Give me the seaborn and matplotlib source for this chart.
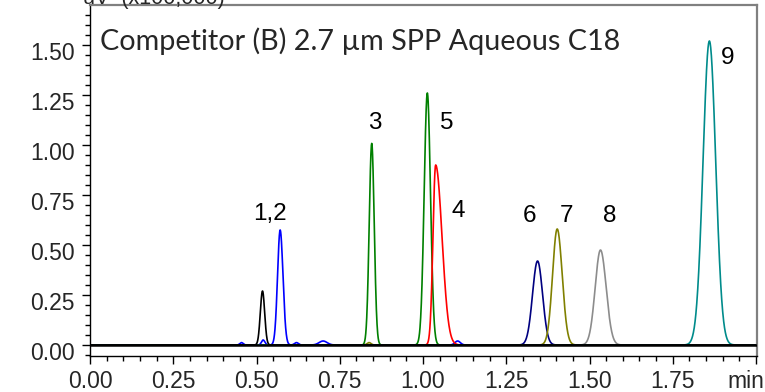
import numpy as np
import pandas as pd
import matplotlib
matplotlib.use("Agg")
import matplotlib.pyplot as plt
import matplotlib.transforms as mtransforms
import seaborn as sns

# ---- data ----
peak_time    = [0.518, 0.571, 0.455, 0.520, 0.620, 0.700, 1.104, 0.846, 1.013, 1.038, 1.344, 1.403, 0.838, 1.533, 1.860]
peak_height  = [0.27, 0.575, 0.012, 0.025, 0.012, 0.020, 0.020, 1.008, 1.26, 0.90, 0.42, 0.58, 0.012, 0.475, 1.52]
peak_sigma_l = [0.0065, 0.0078, 0.005, 0.005, 0.006, 0.012, 0.008, 0.0075, 0.0095, 0.008, 0.0150, 0.0140, 0.006, 0.0160, 0.019]
peak_sigma_r = [0.0065, 0.0085, 0.005, 0.005, 0.006, 0.012, 0.008, 0.0075, 0.0095, 0.019, 0.0150, 0.0150, 0.006, 0.0170, 0.019]
peak_channel = ["black", "blue", "blue", "blue", "blue", "blue", "blue", "green", "green",
                "red", "navy", "olive", "olive", "gray", "teal"]

channel_order  = ["blue", "green", "red", "navy", "olive", "gray", "teal", "black"]
channel_colors = {"black": "#000000", "blue": "#0000FF", "green": "#008000", "red": "#FF0000",
                  "navy": "#000080", "olive": "#808000", "gray": "#8C8C8C", "teal": "#008B8B"}

peak_labels   = ["1,2", "3", "5", "4", "6", "7", "8", "9"]
label_time    = [0.5405, 0.856, 1.072, 1.105, 1.321, 1.431, 1.5616, 1.914]
label_signal  = [0.655, 1.11, 1.11, 0.67, 0.645, 0.645, 0.645, 1.4325]

x_ticks       = [0.0, 0.25, 0.5, 0.75, 1.0, 1.25, 1.5, 1.75, 2.0]
x_tick_labels = ["0.00", "0.25", "0.50", "0.75", "1.00", "1.25", "1.50", "1.75", ""]
x_unit_label  = "min"
y_ticks       = [0.0, 0.25, 0.5, 0.75, 1.0, 1.25, 1.5]
y_tick_labels = ["0.00", "0.25", "0.50", "0.75", "1.00", "1.25", "1.50"]

title_text  = "Competitor (B) 2.7 \u00b5m SPP Aqueous C18"
ylabel_text = "uV  (x100,000)"

# ---- build traces (asymmetric gaussian peak shapes) ----
t = np.linspace(0.0, 2.003, 4007)
rows = []
for ch in channel_order:
    sig = np.zeros_like(t)
    for pt, ph, sl, sr, pc in zip(peak_time, peak_height, peak_sigma_l, peak_sigma_r, peak_channel):
        if pc != ch:
            continue
        s = np.where(t < pt, sl, sr)
        sig += ph * np.exp(-0.5 * ((t - pt) / s) ** 2)
    rows.append(pd.DataFrame({"time": t, "signal": sig, "channel": ch}))
df = pd.concat(rows, ignore_index=True)

# ---- plot ----
sns.set_style("ticks")
plt.rcParams["font.family"] = ["Liberation Sans", "DejaVu Sans"]

W, H = 765, 392
fig = plt.figure(figsize=(W / 100, H / 100), dpi=100)
ax = fig.add_axes([90 / W, (H - 356) / H, (757 - 90) / W, (356 - 5) / H])

sns.lineplot(data=df, x="time", y="signal", hue="channel", hue_order=channel_order,
             palette=channel_colors, legend=False, linewidth=1.2, ax=ax, sort=False,
             estimator=None)
ax.axhline(0, color="black", lw=1.8, zorder=5)

ax.set_xlim(0.0, 2.003)
ax.set_ylim(-0.055, 1.70)
ax.set_xlabel("")
ax.set_ylabel("")

ax.set_xticks(x_ticks)
ax.set_xticklabels(x_tick_labels)
ax.set_yticks(y_ticks)
ax.set_yticklabels(y_tick_labels)
ax.set_xticks(np.arange(0, 2.001, 0.05), minor=True)
ax.set_yticks(np.arange(-0.05, 1.70, 0.05), minor=True)
ax.tick_params(axis="both", which="major", length=6, width=1, color="black",
               labelsize=16.5, direction="out")
ax.tick_params(axis="both", which="minor", length=3.6, width=1, color="black", direction="out")
ax.tick_params(axis="x", which="major", pad=4)
ax.tick_params(axis="y", which="major", pad=5)

# y tick labels sit slightly below their ticks in the reference
offset = mtransforms.ScaledTranslation(0, -6 / 100, fig.dpi_scale_trans)
for lbl in ax.get_yticklabels():
    lbl.set_transform(lbl.get_transform() + offset)

for side in ["left", "bottom"]:
    ax.spines[side].set_color("black")
    ax.spines[side].set_linewidth(1.0)
for side in ["top", "right"]:
    ax.spines[side].set_visible(True)
    ax.spines[side].set_color("#808080")
    ax.spines[side].set_linewidth(1.6)

for lab, lx, ly in zip(peak_labels, label_time, label_signal):
    ax.text(lx, ly, lab, ha="center", va="center", fontsize=17.5, color="black")

# unit label at the end of the x axis
renderer = fig.canvas.get_renderer()
ref_lbl = ax.get_xticklabels()[0]
fig.canvas.draw()
bb = ref_lbl.get_window_extent(renderer)
fig.text((W - 1) / W, bb.y0 / H, x_unit_label, ha="right", va="bottom", fontsize=16.5)

# title: fit to measured width
title = ax.text((100 - 90) / 667, (356 - 50) / 351, title_text, transform=ax.transAxes,
                ha="left", va="baseline", fontsize=23, family=["Lato", "DejaVu Sans"])
w = title.get_window_extent(renderer).width
title.set_fontsize(23 * 522 / w)

ylab = fig.text(83 / W, (H - 4) / H, ylabel_text, ha="left", va="baseline", fontsize=15.5)
w = ylab.get_window_extent(renderer).width
ylab.set_fontsize(15.5 * 142 / w)

fig.savefig("out.png", dpi=100)
